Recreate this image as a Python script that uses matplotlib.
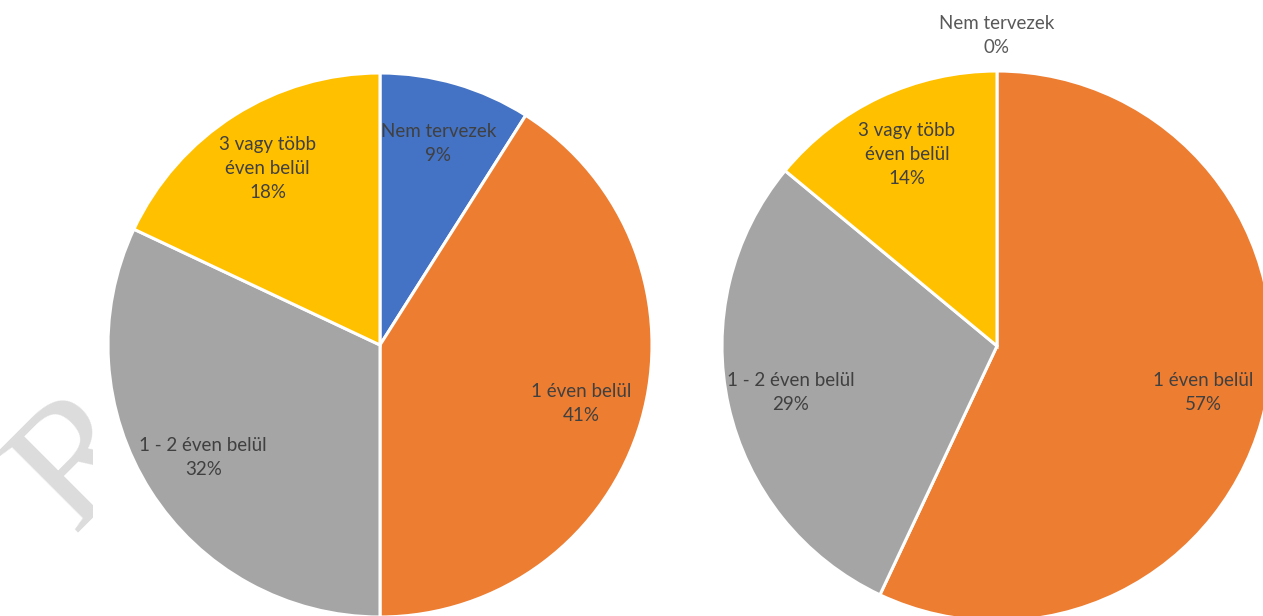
import numpy as np
import matplotlib.pyplot as plt

W, H = 1263, 616

labels = ['Nem tervezek', '1 éven belül', '1 - 2 éven belül', '3 vagy több\néven belül']
left_values = [9, 41, 32, 18]
right_values = [0, 57, 29, 14]
colors = ['#4472C4', '#ED7D31', '#A5A5A5', '#FFC000']

plt.rcParams['font.family'] = ['Lato', 'DejaVu Sans']

fig = plt.figure(figsize=(W / 100, H / 100), dpi=100)
fig.patch.set_facecolor('white')

# faint watermark letter, cut off on its right side
wm = fig.add_axes([0, 0, 93 / W, 1])
wm.axis('off')
wm.set_xlim(0, 93)
wm.set_ylim(H, 0)
wm.text(84, 462, 'R', fontsize=125, family='Liberation Serif', color='#dcdcdc',
        rotation=45, ha='center', va='center', rotation_mode='anchor', clip_on=True)


def draw_pie(cx, cy, r, values):
    ax = fig.add_axes([(cx - r) / W, (H - cy - r) / H, 2 * r / W, 2 * r / H])
    wedges, _ = ax.pie(values, colors=colors, startangle=90, counterclock=False,
                       radius=1, wedgeprops=dict(edgecolor='white', linewidth=2.2))
    ax.set_xlim(-1, 1)
    ax.set_ylim(-1, 1)
    ax.axis('off')
    total = sum(values)
    for w, lab, v in zip(wedges, labels, values):
        w.set_clip_on(False)
        pct = round(100 * v / total)
        txt = f'{lab}\n{pct}%'
        if v == 0:
            # empty slice: label sits above the pie
            ax.text(0, 1.13, txt, ha='center', va='center', fontsize=13.5,
                    color='#595959', linespacing=1.5, clip_on=False)
            continue
        ang = np.deg2rad((w.theta1 + w.theta2) / 2)
        d = 0.77
        ax.text(d * np.cos(ang), d * np.sin(ang), txt, ha='center', va='center',
                fontsize=13.5, color='#404040', linespacing=1.5)


draw_pie(380, 345, 272, left_values)
draw_pie(997, 346, 275, right_values)

fig.savefig('out.png', dpi=100, facecolor='white')
